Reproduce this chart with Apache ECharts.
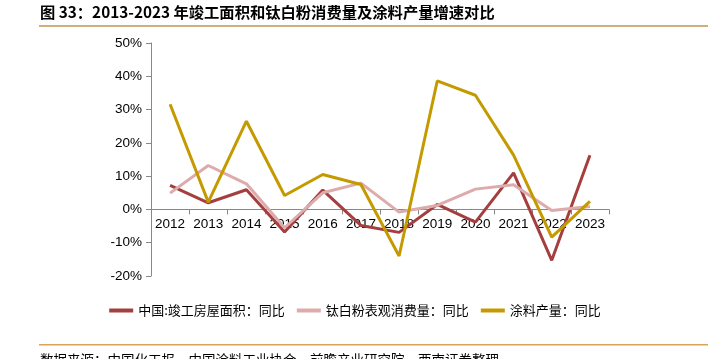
<!DOCTYPE html>
<html><head><meta charset="utf-8">
<script src="https://cdn.jsdelivr.net/npm/echarts@6/dist/echarts.min.js"></script>
<style>html,body{margin:0;padding:0;background:#fff}#c{width:710px;height:359px}</style>
</head><body><div id="c"></div>
<script>
var years = ['2012','2013','2014','2015','2016','2017','2018','2019','2020','2021','2022','2023'];
var completedArea = [7.2, 2.0, 5.9, -6.8, 5.8, -4.8, -6.9, 1.5, -3.8, 11.0, -15.3, 16.3];
var tio2Consumption = [4.9, 13.2, 7.7, -5.5, 5.0, 7.9, -0.8, 1.2, 6.1, 7.4, -0.3, 0.9];
var coatingOutput = [31.6, 2.2, 26.5, 4.2, 10.5, 7.5, -14.0, 38.6, 34.3, 16.3, -8.3, 2.4];
var seriesNames = ['中国:竣工房屋面积：同比', '钛白粉表观消费量：同比', '涂料产量：同比'];
var yMin = -20, yMax = 50, yStep = 10;
var titleText = '图 33：2013-2023 年竣工面积和钛白粉消费量及涂料产量增速对比';
var sourceText = '数据来源：中国化工报，中国涂料工业协会，前瞻产业研究院，西南证券整理';

var chart = echarts.init(document.getElementById('c'));
var cjk = '"Noto Sans CJK SC", sans-serif';
var lat = '"Liberation Sans", Arial, sans-serif';
var gridTop = 43, gridBottom = 83, H = 359;
var plotH = H - gridTop - gridBottom;
var zeroOffset = -plotH * (0 - yMin) / (yMax - yMin);
function mk(name, data, color) {
  return {name: name, type: 'line', data: data, symbol: 'none',
    lineStyle: {color: color, width: 3}, itemStyle: {color: color}};
}
chart.setOption({
  animation: false,
  grid: {left: 151, right: 101, top: gridTop, bottom: gridBottom},
  graphic: [
    {type: 'text', left: 40, top: 5, style: {text: titleText, font: 'bold 15.3px ' + cjk, fill: '#000'}},
    {type: 'rect', shape: {x: 39, y: 25, width: 669, height: 2}, style: {fill: '#CDB07A'}},
    {type: 'rect', shape: {x: 39, y: 344, width: 669, height: 1.5}, style: {fill: '#D9A455'}},
    {type: 'text', left: 40, top: 353, style: {text: sourceText, font: '13.5px ' + cjk, fill: '#000'}}
  ],
  legend: {
    bottom: 37, left: 'center', icon: 'rect', itemWidth: 24, itemHeight: 4, itemGap: 12,
    textStyle: {fontFamily: cjk, fontSize: 13, color: '#000'},
    data: seriesNames
  },
  xAxis: {
    type: 'category', data: years, boundaryGap: true, offset: zeroOffset,
    axisLine: {onZero: false, lineStyle: {color: '#888', width: 1}},
    axisTick: {show: true, length: 5, lineStyle: {color: '#888'}},
    axisLabel: {fontFamily: lat, fontSize: 13.5, color: '#000', margin: 8, interval: 0},
    splitLine: {show: false}
  },
  yAxis: {
    type: 'value', min: yMin, max: yMax, interval: yStep,
    axisLine: {show: true, lineStyle: {color: '#888'}},
    axisTick: {show: true, length: 5, lineStyle: {color: '#888'}},
    axisLabel: {fontFamily: lat, fontSize: 13.5, color: '#000', margin: 9, formatter: '{value}%'},
    splitLine: {show: false}
  },
  series: [
    mk(seriesNames[0], completedArea, '#A53F3F'),
    mk(seriesNames[1], tio2Consumption, '#DDABAB'),
    mk(seriesNames[2], coatingOutput, '#C49A00')
  ]
});
</script></body></html>
